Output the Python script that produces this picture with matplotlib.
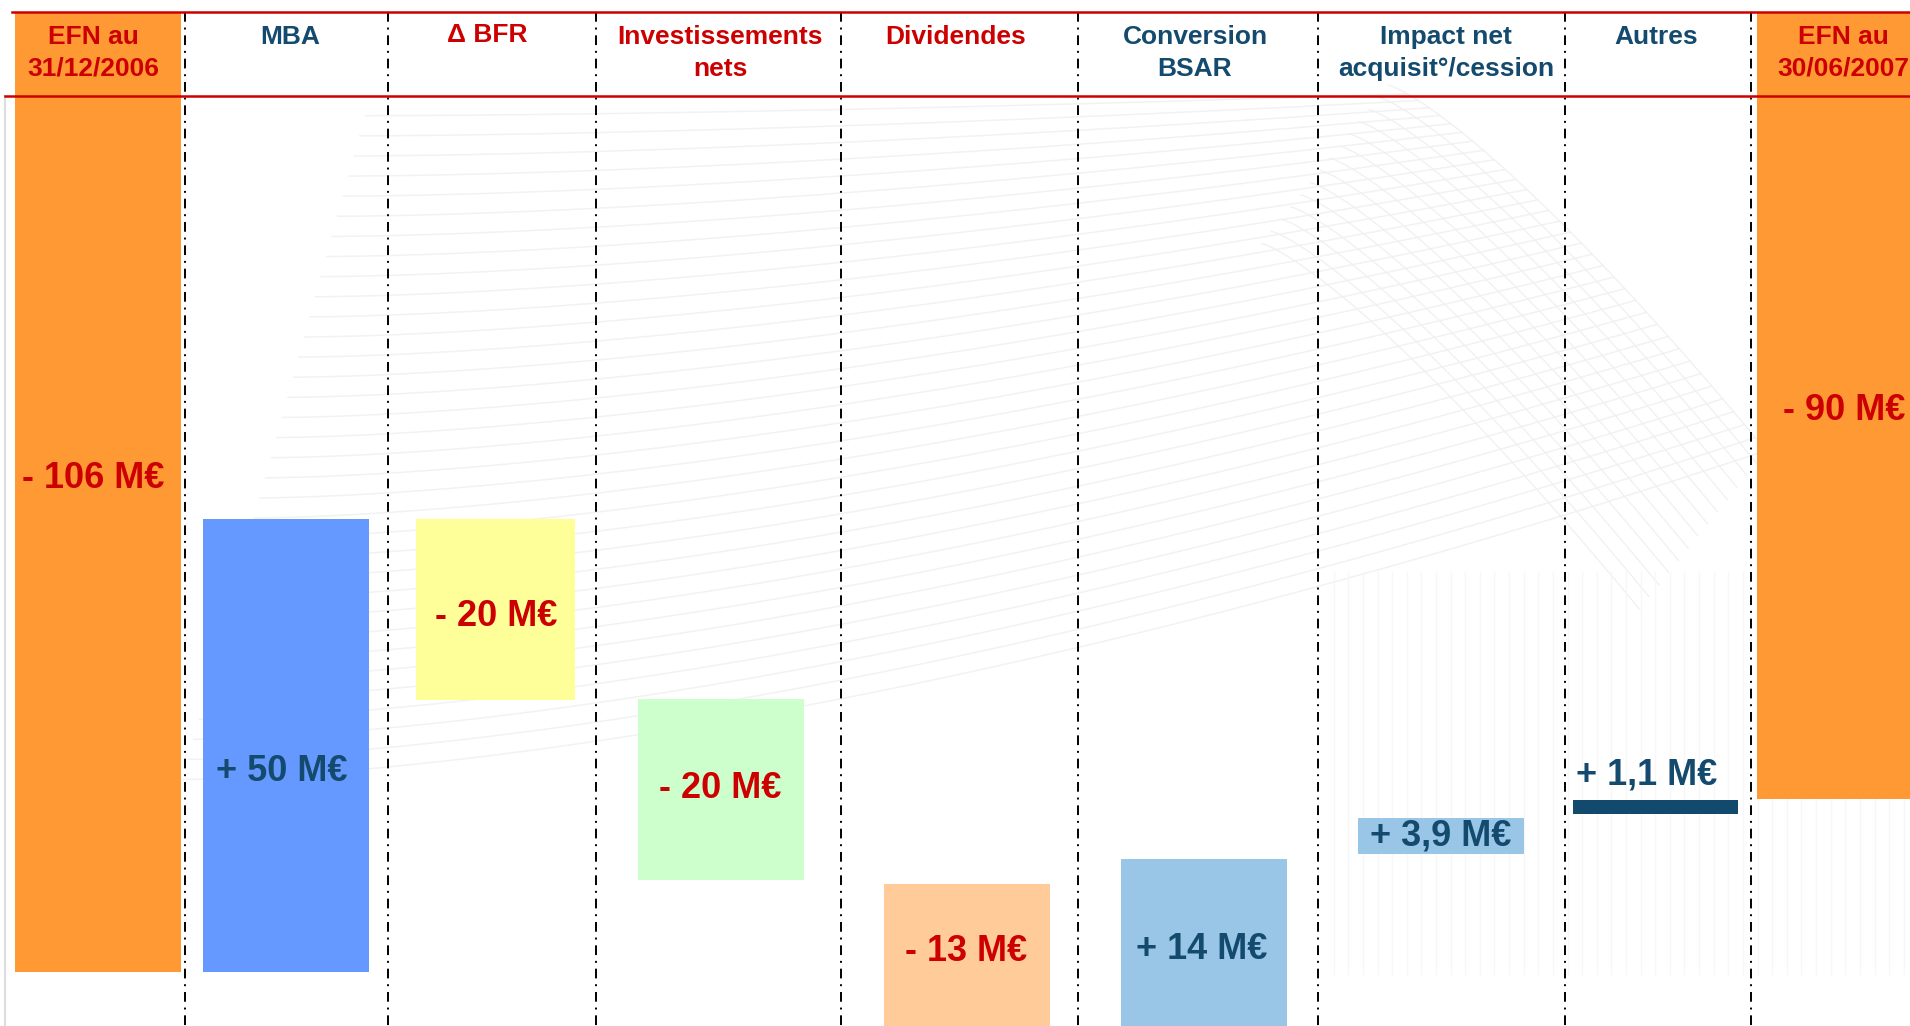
import numpy as np
import matplotlib
matplotlib.use("Agg")
import matplotlib.pyplot as plt

# --- data (M EUR, as drawn; 0 = top of the header band) ---
headers = ["EFN au\n31/12/2006", "MBA", "\u0394 BFR", "Investissements\nnets", "Dividendes",
           "Conversion\nBSAR", "Impact net\nacquisit\u00b0/cession", "Autres", "EFN au\n30/06/2007"]
value_labels = ["- 106 M\u20ac", "+ 50 M\u20ac", "- 20 M\u20ac", "- 20 M\u20ac", "- 13 M\u20ac",
                "+ 14 M\u20ac", "+ 3,9 M\u20ac", "+ 1,1 M\u20ac", "- 90 M\u20ac"]
bar_start = [0, -106, -56, -75.9, -96.3, -113, -93.0, -88.5, 0]
bar_end = [-106, -56, -76, -95.8, -113, -93.5, -89.0, -87.0, -86.9]

# --- layout / style ---
W, H = 1910, 1026
PX_PER_UNIT = 9.057
TOP = 12


def val(py):
    # pixel row -> value on the chart scale
    return (TOP - py) / PX_PER_UNIT


RED = "#CC0000"
NAVY = "#134A6E"
bar_colors = ["#FF9933", "#6699FF", "#FFFF99", "#CCFFCC", "#FFCC99",
              "#99C6E6", "#99C6E6", "#124A6E", "#FF9933"]
header_colors = [RED, NAVY, RED, RED, RED, NAVY, NAVY, NAVY, RED]
label_colors = [RED, NAVY, RED, RED, RED, NAVY, NAVY, NAVY, RED]
bar_left = [15, 203, 416, 638, 884, 1121, 1358, 1573, 1757]
bar_right = [181, 369, 575, 804, 1050, 1287, 1524, 1738, 1915]
header_x = [93, 290, 487, 720, 956, 1195, 1446, 1656, 1843]
label_xy = [(93, 479), (282, 772), (496, 617), (720, 789), (966, 952),
            (1202, 950), (1441, 836), (1647, 775), (1844, 411)]
dividers = [185, 388, 596, 841, 1078, 1318, 1565, 1751]

plt.rcParams["font.family"] = ["Liberation Sans", "DejaVu Sans"]

fig = plt.figure(figsize=(W / 100, H / 100), dpi=100)
ax = fig.add_axes([0, 0, 1, 1])
ax.set_xlim(0, W)
ax.set_ylim(val(H), val(0))
ax.axis("off")


# faint decorative swoosh in the background (slide artwork)
def arc(u):
    # upper edge of the mesh, u in [0, 1]
    return 1140 + 310 * u, 70 + 300 * u ** 1.25


s = 1.218
t = np.linspace(0, 1, 200)
for i in range(34):
    f = i / 33
    xr, yr = arc(0.05 + 0.95 * f)
    xl, yl = 150 + 150 * (1 - f), 95 + 545 * f
    px = xl + (xr - xl) * t
    py = yl + (yr - yl) * t ** 1.6
    ax.plot(px * s, val(py * s), color="#f2f2f2", lw=1.1, zorder=0)
for i in range(14):
    off = i * 10
    xa, ya = arc(t)
    ax.plot((xa - off * 0.8) * s, val((ya + off) * s), color="#f0f0f0",
            lw=0.9, zorder=0)
for xv in np.arange(1095, 1568, 12):
    ax.plot([xv * s, xv * s], [val(470 * s), val(800 * s)], color="#f7f7f7",
            lw=1.0, zorder=0)

# bars
centers = [(l + r) / 2 for l, r in zip(bar_left, bar_right)]
widths = [r - l for l, r in zip(bar_left, bar_right)]
heights = [e - s_ for s_, e in zip(bar_start, bar_end)]
ax.bar(centers, heights, bottom=bar_start, width=widths, color=bar_colors,
       linewidth=0, zorder=2)

# value labels
for (lx, ly), txt, c in zip(label_xy, value_labels, label_colors):
    ax.text(lx, val(ly), txt, ha="center", va="center", color=c,
            fontsize=26, fontweight="bold", zorder=5)

# header band
ax.plot([12, W], [val(12), val(12)], color=RED, lw=1.8, zorder=4)
ax.plot([5, W], [val(96), val(96)], color=RED, lw=1.8, zorder=4)
for hx, txt, c in zip(header_x, headers, header_colors):
    if "\n" in txt:
        ax.text(hx, val(53), txt, ha="center", va="center", color=c,
                fontsize=19, fontweight="bold", linespacing=1.4, zorder=5)
    else:
        ax.text(hx, val(37 if txt != "\u0394 BFR" else 35), txt, ha="center",
                va="center", color=c, fontsize=19, fontweight="bold", zorder=5)

# dash-dot column separators
for dx in dividers:
    ax.plot([dx, dx], [val(12), val(H)], color="black", lw=1.4,
            linestyle=(0, (5, 3, 1, 3)), zorder=3)
ax.plot([5, 5], [val(96), val(H)], color="#dddddd", lw=1.5, zorder=1)

fig.savefig("out.png", dpi=100, facecolor="white")
